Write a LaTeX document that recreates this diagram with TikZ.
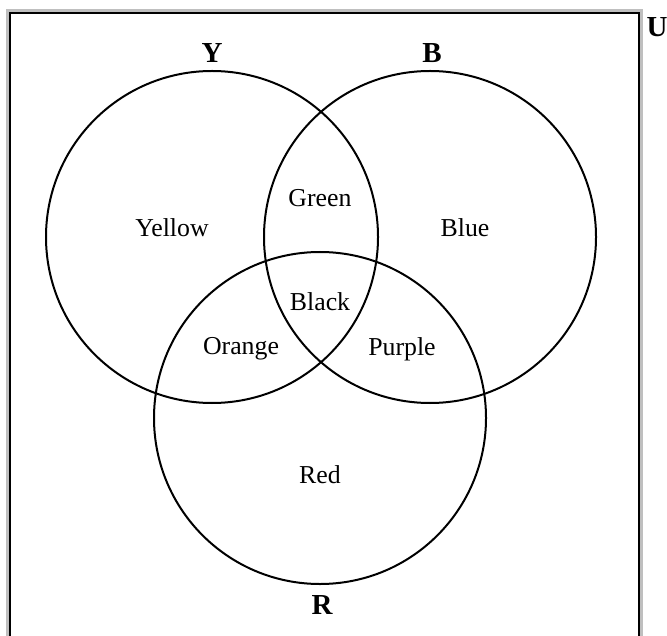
\documentclass[tikz,border=0pt]{standalone}
\usepackage{fontspec}
\setmainfont{Liberation Serif}
\usetikzlibrary{positioning}
\tikzset{
    setcircle/.style={
        circle,
        draw,
        line width=1pt,
        minimum size=166pt,
        inner sep=0pt
    },
    region/.style={
        font=\fontsize{12.9}{15}\selectfont
    },
    setlabel/.style={
        font=\fontsize{14.5}{17}\selectfont\bfseries
    }
}

\begin{document}
\begin{tikzpicture}[x=0.5pt, y=-0.5pt]
    \useasboundingbox (0,0) rectangle (667,635);
    % universe frame, open at the bottom
    \draw[black!25, line width=1.5pt] (7.5,640) -- (7.5,10.5) -- (641.5,10.5) -- (641.5,640);
    \draw[line width=1pt] (10,640) -- (10,13) -- (638.5,13) -- (638.5,640);
    \node[setlabel] (univ) at (657,27) {U};

    \node[setcircle] (yellowset) at (212,237) {};
    \node[setcircle] (blueset) at (430,237) {};
    \node[setcircle] (redset) at (320,418) {};

    \node[setlabel] (ylabel) at (212,53) {Y};
    \node[setlabel] (blabel) at (432,53) {B};
    \node[setlabel] (rlabel) at (322,605) {R};

    \node[region] (yellow) at (172,228) {Yellow};
    \node[region] (green) at (320,198) {Green};
    \node[region] (blue) at (465,228) {Blue};
    \node[region] (black) at (320,302) {Black};
    \node[region] (orange) at (241,349) {Orange};
    \node[region] (purple) at (402,349) {Purple};
    \node[region] (red) at (320,475) {Red};
\end{tikzpicture}
\end{document}
